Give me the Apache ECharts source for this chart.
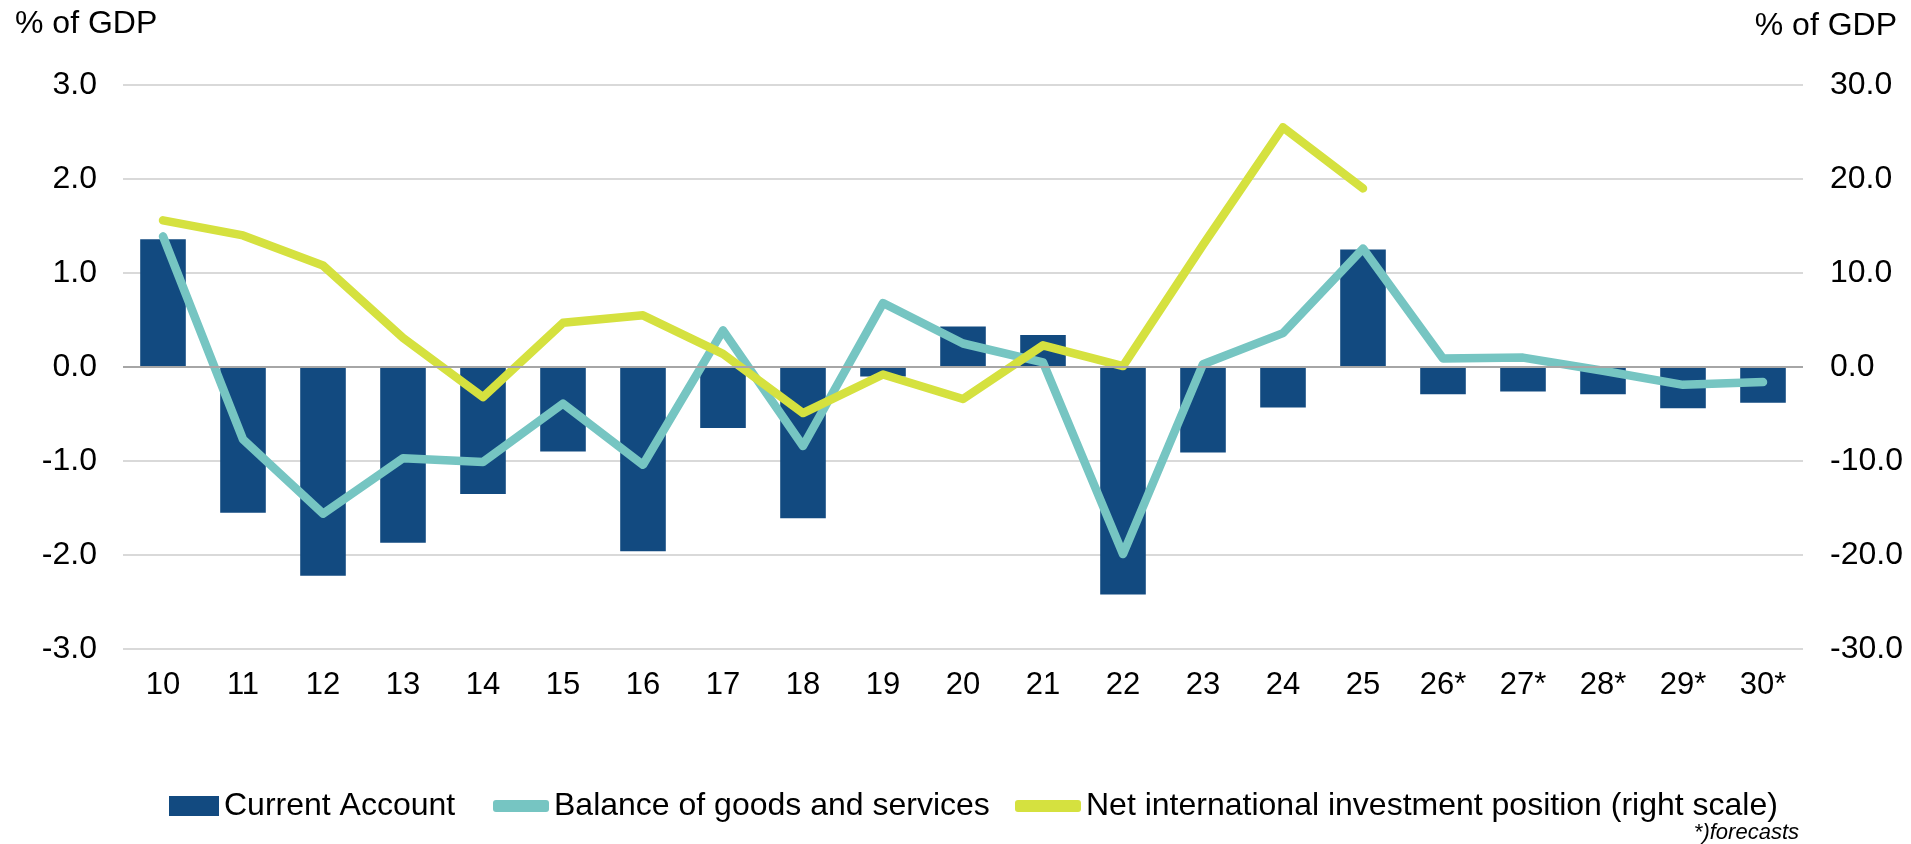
<!DOCTYPE html>
<html>
<head>
<meta charset="utf-8">
<script src="https://cdn.jsdelivr.net/npm/echarts@6/dist/echarts.min.js"></script>
<style>
html,body{margin:0;padding:0;background:#fff;}
#chart{width:1911px;height:844px;}
</style>
</head>
<body>
<div id="chart"></div>
<script>
const categories = ['10','11','12','13','14','15','16','17','18','19','20','21','22','23','24','25','26*','27*','28*','29*','30*'];
const currentAccount = [1.36,-1.55,-2.22,-1.87,-1.35,-0.90,-1.96,-0.65,-1.61,-0.10,0.43,0.34,-2.42,-0.91,-0.43,1.25,-0.29,-0.26,-0.29,-0.44,-0.38];
const balanceGoodsServices = [1.39,-0.77,-1.56,-0.97,-1.01,-0.39,-1.04,0.39,-0.84,0.68,0.25,0.05,-1.99,0.03,0.36,1.26,0.09,0.10,-0.04,-0.19,-0.16];
const netIntlInvestment = [15.6,14.0,10.8,3.1,-3.2,4.7,5.5,1.4,-4.9,-0.8,-3.4,2.3,0.1,13.0,25.5,19.0,null,null,null,null,null];
const leftTicks = {min:-3, max:3, interval:1};
const rightTicks = {min:-30, max:30, interval:10};

const FONT = '"Liberation Sans", Arial, sans-serif';
const chart = echarts.init(document.getElementById('chart'));
const txt = {fontFamily: FONT, fontSize: 32, color: '#000'};

chart.setOption({
  animation: false,
  backgroundColor: '#fff',
  textStyle: {fontFamily: FONT},
  grid: {left: 123, right: 108, top: 85, bottom: 195},
  graphic: [
    {type:'text', left: 15, top: 8, style: {text: '% of GDP', font: '32px ' + FONT, fill: '#000'}},
    {type:'text', right: 14, top: 10, style: {text: '% of GDP', font: '32px ' + FONT, fill: '#000'}},
    {type:'text', right: 112, top: 822, style: {text: '*)forecasts', font: 'italic 22px ' + FONT, fill: '#000'}}
  ],
  legend: [
    {data:[{name:'Current Account', icon:'rect'}], left: 164, top: 785, itemWidth: 50, itemHeight: 20, textStyle: txt, selectedMode:false},
    {data:[{name:'Balance of goods and services', icon:'roundRect'}], left: 488, top: 785, itemWidth: 56, itemHeight: 12, textStyle: txt, selectedMode:false},
    {data:[{name:'Net international investment position (right scale)', icon:'roundRect'}], left: 1010, top: 785, itemWidth: 66, itemHeight: 12, textStyle: txt, selectedMode:false}
  ],
  xAxis: {
    type: 'category',
    data: categories,
    axisLine: {show: false, onZero: false},
    axisTick: {show: false},
    axisLabel: {fontSize: 31, color: '#000', margin: 21, fontFamily: FONT}
  },
  yAxis: [
    {type:'value', min:leftTicks.min, max:leftTicks.max, interval:leftTicks.interval,
     axisLabel:{fontSize:32, color:'#000', margin:26, fontFamily: FONT, formatter: v => v.toFixed(1)},
     splitLine:{lineStyle:{color:'#d9d9d9', width:2}},
     axisLine:{show:false}, axisTick:{show:false}},
    {type:'value', min:rightTicks.min, max:rightTicks.max, interval:rightTicks.interval, position:'right',
     axisLabel:{fontSize:32, color:'#000', margin:27, fontFamily: FONT, formatter: v => v.toFixed(1)},
     splitLine:{show:false}, axisLine:{show:false}, axisTick:{show:false}}
  ],
  series: [
    {name:'Current Account', type:'bar', data: currentAccount, barWidth:'57%',
     itemStyle:{color:'#124a80'},
     markLine:{silent:true, symbol:'none', label:{show:false}, lineStyle:{color:'#a6a6a6', width:2, type:'solid'}, data:[{yAxis:0}]}},
    {name:'Balance of goods and services', type:'line', data: balanceGoodsServices, showSymbol:false, symbol:'none',
     lineStyle:{color:'#76c5c2', width:8.5, cap:'round', join:'round'}, itemStyle:{color:'#76c5c2'}},
    {name:'Net international investment position (right scale)', type:'line', yAxisIndex:1, data: netIntlInvestment, showSymbol:false, symbol:'none',
     lineStyle:{color:'#d5e13f', width:8.5, cap:'round', join:'round'}, itemStyle:{color:'#d5e13f'}}
  ]
});
</script>
</body>
</html>
